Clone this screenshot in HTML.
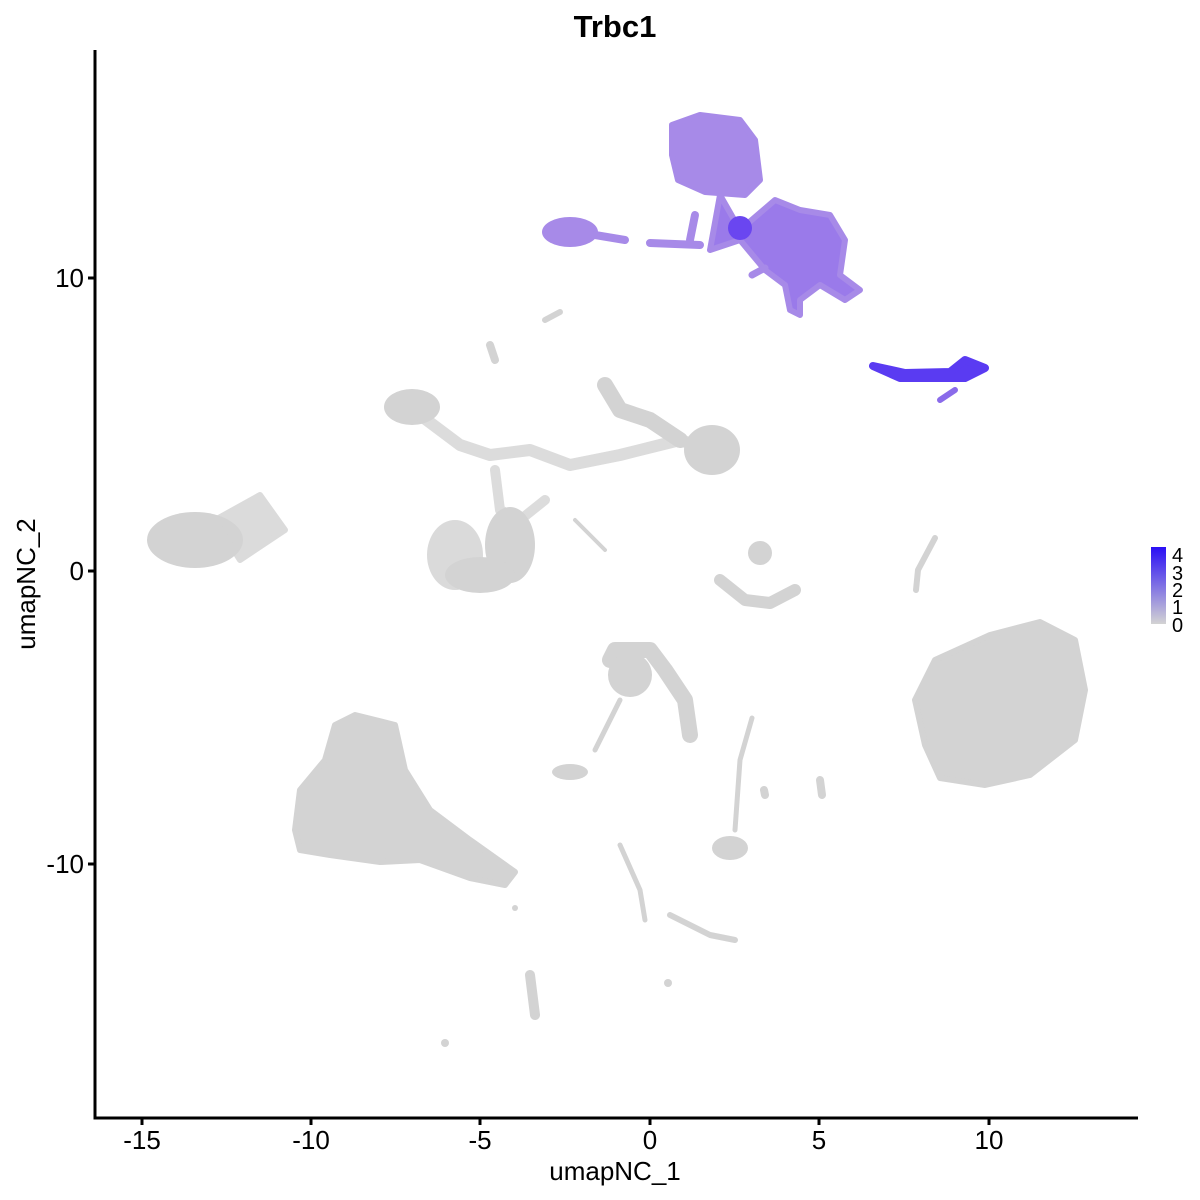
<!DOCTYPE html>
<html><head><style>body{margin:0;background:#fff}svg{display:block}text{font-family:"Liberation Sans",sans-serif}</style></head>
<body>
<svg width="1200" height="1200" viewBox="0 0 1200 1200" xmlns="http://www.w3.org/2000/svg">
<defs>
<linearGradient id="lg" x1="0" y1="1" x2="0" y2="0"><stop offset="0" stop-color="#d3d3d3"/><stop offset="1" stop-color="#2a0ff5"/></linearGradient>
</defs>
<text x="615" y="37" font-size="31" font-weight="bold" text-anchor="middle">Trbc1</text>
<g fill="#d3d3d3" stroke="#d3d3d3" stroke-linecap="round" stroke-linejoin="round">
<ellipse cx="195" cy="540" rx="48" ry="28" stroke="none"/>
<path d="M215 520 L260 495 L285 530 L240 560 Z" stroke-width="6" opacity="0.8"/>
<path d="M295 830 L300 790 L325 760 L335 725 L355 715 L395 725 L405 770 L430 810 L470 840 L515 872 L505 885 L470 878 L420 860 L380 862 L330 855 L300 850 Z" stroke-width="6"/>
<ellipse cx="412" cy="407" rx="28" ry="18" stroke="none"/>
<path d="M420 415 L460 445 L490 455 L530 450 L570 465 L620 455 L680 440 L710 450" fill="none" stroke-width="12" opacity="0.8"/>
<path d="M605 385 L620 410 L650 420 L680 440" fill="none" stroke-width="16"/>
<ellipse cx="712" cy="450" rx="28" ry="25" stroke="none"/>
<path d="M495 470 L500 510 L520 520 L545 500" fill="none" stroke-width="10" opacity="0.8"/>
<path d="M575 520 L605 550" fill="none" stroke-width="4"/>
<ellipse cx="455" cy="555" rx="28" ry="35" stroke="none" opacity="0.85"/>
<ellipse cx="510" cy="545" rx="25" ry="38" stroke="none"/>
<ellipse cx="480" cy="575" rx="35" ry="18" stroke="none"/>
<path d="M720 580 L745 600 L770 603 L795 590" fill="none" stroke-width="12"/>
<ellipse cx="760" cy="553" rx="12" ry="12" stroke="none"/>
<path d="M935 538 L918 570 L916 590" fill="none" stroke-width="6"/>
<path d="M915 700 L935 660 L990 635 L1040 622 L1075 640 L1085 690 L1075 740 L1030 775 L985 785 L940 778 L925 745 Z" stroke-width="6"/>
<path d="M610 660 L615 650 L650 650 L665 670 L685 700 L690 735" fill="none" stroke-width="16"/>
<ellipse cx="630" cy="675" rx="22" ry="22" stroke="none"/>
<path d="M620 700 L595 750" fill="none" stroke-width="5"/>
<ellipse cx="570" cy="772" rx="18" ry="8" stroke="none"/>
<ellipse cx="730" cy="848" rx="18" ry="12" stroke="none"/>
<path d="M735 830 L740 760 L752 718" fill="none" stroke-width="5"/>
<path d="M620 845 L640 890 L645 920" fill="none" stroke-width="5"/>
<path d="M670 915 L710 935 L735 940" fill="none" stroke-width="6"/>
<path d="M530 975 L535 1015" fill="none" stroke-width="10"/>
<path d="M820 780 L822 795" fill="none" stroke-width="8"/>
<path d="M765 795 L764 790" fill="none" stroke-width="8"/>
<path d="M490 345 L495 360" fill="none" stroke-width="8"/>
<path d="M545 320 L560 312" fill="none" stroke-width="6"/>
<circle cx="668" cy="983" r="4" stroke="none"/>
<circle cx="445" cy="1043" r="4" stroke="none"/>
<circle cx="515" cy="908" r="3" stroke="none"/>
</g>
<g fill="#a78ae8" stroke="#a78ae8" stroke-linecap="round" stroke-linejoin="round">
<path d="M672 125 L700 115 L740 120 L755 140 L760 180 L745 195 L705 192 L678 180 L672 155 Z" stroke-width="6"/>
<path d="M720 195 L740 230 L775 200 L800 210 L830 215 L845 240 L840 275 L860 290 L845 300 L820 285 L800 300 L800 315 L790 310 L785 285 L765 270 L740 240 L710 250 Z" stroke-width="6" fill="#9a7aea"/>
<ellipse cx="570" cy="232" rx="28" ry="15" stroke="none"/>
<path d="M595 235 L625 240 M650 243 L700 245" fill="none" stroke-width="8"/>
<path d="M695 215 L690 240" fill="none" stroke-width="8"/>
<path d="M752 275 L765 268" fill="none" stroke-width="7"/>
</g>
<ellipse cx="740" cy="228" rx="12" ry="12" fill="#6a46f0"/>
<path d="M873 366 L905 373 L950 372 L965 360 L985 368 L965 378 L900 378 Z" fill="#5a3bf2" stroke="#5a3bf2" stroke-width="8" stroke-linejoin="round"/>
<path d="M940 400 L955 390" stroke="#8a6bea" stroke-width="6" stroke-linecap="round"/>
<g stroke="#000" stroke-width="3" fill="none">
<path d="M95 50 V1118 H1138"/>
<path d="M142 1118 v7 M311 1118 v7 M480 1118 v7 M650 1118 v7 M819 1118 v7 M989 1118 v7"/>
<path d="M95 278 h-7 M95 571 h-7 M95 864 h-7"/>
</g>
<g font-size="26" fill="#000">
<g text-anchor="middle">
<text x="142" y="1149">-15</text><text x="311" y="1149">-10</text><text x="480" y="1149">-5</text>
<text x="650" y="1149">0</text><text x="819" y="1149">5</text><text x="989" y="1149">10</text>
</g>
<g text-anchor="end">
<text x="84" y="287">10</text><text x="84" y="580">0</text><text x="84" y="873">-10</text>
</g>
<text x="615" y="1180" text-anchor="middle">umapNC_1</text>
<text transform="translate(35 584) rotate(-90)" text-anchor="middle">umapNC_2</text>
</g>
<rect x="1151" y="547" width="15" height="77" fill="url(#lg)"/>
<g font-size="20" fill="#000">
<text x="1172" y="562">4</text><text x="1172" y="580">3</text><text x="1172" y="597">2</text><text x="1172" y="614">1</text><text x="1172" y="632">0</text>
</g>
</svg>
</body></html>
